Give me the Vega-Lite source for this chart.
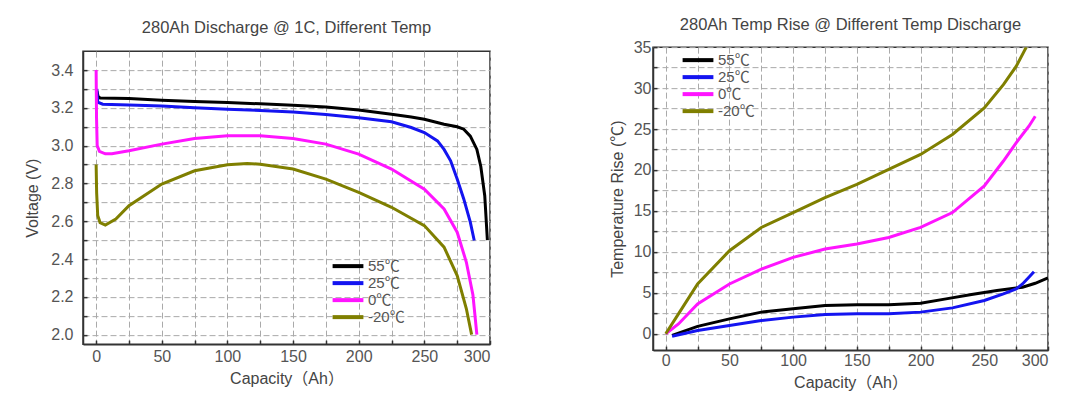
{
  "$schema": "https://vega.github.io/schema/vega-lite/v6.json",
  "padding": {"left": 24, "top": 15, "right": 5, "bottom": 5},
  "background": "white",
  "spacing": 116,
  "center": true,
  "config": {
    "font": "Liberation Sans, Noto Sans CJK SC, sans-serif",
    "view": {"stroke": "#333", "strokeWidth": 1.5},
    "title": {"fontSize": 16.5, "fontWeight": "normal", "color": "#444", "offset": 15, "anchor": "middle"},
    "axis": {
      "grid": true,
      "domainColor": "#333", "domainWidth": 1.5,
      "tickColor": "#333", "tickWidth": 1.5, "tickSize": -4,
      "labelFontSize": 16, "labelColor": "#555", "labelFont": "Liberation Sans",
      "titleFontSize": 16, "titleFontWeight": "normal", "titleColor": "#444",
      "gridColor": "#aaa", "gridDash": [6, 3], "gridWidth": 1
    },
    "legend": {
      "symbolType": "M-2.2,0L2.2,0", "symbolStrokeWidth": 4, "symbolSize": 196,
      "labelFontSize": 15, "labelColor": "#555", "rowPadding": 0, "labelOffset": 11,
      "padding": 0, "orient": "none"
    }
  },
  "datasets": {
    "volt": [
      {"c": 0.6, "v": 3.29, "t": "55℃"}, {"c": 1.5, "v": 3.26, "t": "55℃"}, {"c": 3, "v": 3.252, "t": "55℃"}, {"c": 25, "v": 3.249, "t": "55℃"}, {"c": 50, "v": 3.24, "t": "55℃"}, {"c": 75, "v": 3.234, "t": "55℃"}, {"c": 100, "v": 3.228, "t": "55℃"}, {"c": 125, "v": 3.221, "t": "55℃"}, {"c": 150, "v": 3.214, "t": "55℃"}, {"c": 175, "v": 3.204, "t": "55℃"}, {"c": 200, "v": 3.189, "t": "55℃"}, {"c": 225, "v": 3.166, "t": "55℃"}, {"c": 240, "v": 3.152, "t": "55℃"}, {"c": 250, "v": 3.14, "t": "55℃"}, {"c": 265, "v": 3.113, "t": "55℃"}, {"c": 275, "v": 3.1, "t": "55℃"}, {"c": 280, "v": 3.087, "t": "55℃"}, {"c": 285, "v": 3.05, "t": "55℃"}, {"c": 290, "v": 2.98, "t": "55℃"}, {"c": 293, "v": 2.89, "t": "55℃"}, {"c": 296, "v": 2.735, "t": "55℃"}, {"c": 298, "v": 2.5, "t": "55℃"},
      {"c": 0.5, "v": 3.3, "t": "25℃"}, {"c": 1.2, "v": 3.23, "t": "25℃"}, {"c": 5, "v": 3.219, "t": "25℃"}, {"c": 25, "v": 3.215, "t": "25℃"}, {"c": 50, "v": 3.21, "t": "25℃"}, {"c": 75, "v": 3.201, "t": "25℃"}, {"c": 100, "v": 3.193, "t": "25℃"}, {"c": 125, "v": 3.186, "t": "25℃"}, {"c": 150, "v": 3.178, "t": "25℃"}, {"c": 175, "v": 3.165, "t": "25℃"}, {"c": 200, "v": 3.148, "t": "25℃"}, {"c": 225, "v": 3.126, "t": "25℃"}, {"c": 240, "v": 3.096, "t": "25℃"}, {"c": 250, "v": 3.069, "t": "25℃"}, {"c": 260, "v": 3.025, "t": "25℃"}, {"c": 265, "v": 2.98, "t": "25℃"}, {"c": 270, "v": 2.92, "t": "25℃"}, {"c": 275, "v": 2.823, "t": "25℃"}, {"c": 280, "v": 2.718, "t": "25℃"}, {"c": 285, "v": 2.595, "t": "25℃"}, {"c": 288, "v": 2.498, "t": "25℃"},
      {"c": 0, "v": 3.4, "t": "0℃"}, {"c": 0.3, "v": 3.15, "t": "0℃"}, {"c": 0.8, "v": 3.0, "t": "0℃"}, {"c": 2.5, "v": 2.97, "t": "0℃"}, {"c": 7, "v": 2.957, "t": "0℃"}, {"c": 12, "v": 2.957, "t": "0℃"}, {"c": 25, "v": 2.973, "t": "0℃"}, {"c": 50, "v": 3.008, "t": "0℃"}, {"c": 75, "v": 3.038, "t": "0℃"}, {"c": 100, "v": 3.052, "t": "0℃"}, {"c": 125, "v": 3.052, "t": "0℃"}, {"c": 150, "v": 3.038, "t": "0℃"}, {"c": 175, "v": 3.008, "t": "0℃"}, {"c": 200, "v": 2.955, "t": "0℃"}, {"c": 225, "v": 2.876, "t": "0℃"}, {"c": 250, "v": 2.77, "t": "0℃"}, {"c": 265, "v": 2.665, "t": "0℃"}, {"c": 275, "v": 2.542, "t": "0℃"}, {"c": 282, "v": 2.383, "t": "0℃"}, {"c": 287, "v": 2.21, "t": "0℃"}, {"c": 290, "v": 2.0, "t": "0℃"},
      {"c": 0, "v": 2.9, "t": "-20℃"}, {"c": 0.4, "v": 2.75, "t": "-20℃"}, {"c": 1.2, "v": 2.63, "t": "-20℃"}, {"c": 3, "v": 2.593, "t": "-20℃"}, {"c": 7, "v": 2.58, "t": "-20℃"}, {"c": 15, "v": 2.612, "t": "-20℃"}, {"c": 25, "v": 2.682, "t": "-20℃"}, {"c": 50, "v": 2.797, "t": "-20℃"}, {"c": 75, "v": 2.867, "t": "-20℃"}, {"c": 100, "v": 2.899, "t": "-20℃"}, {"c": 115, "v": 2.906, "t": "-20℃"}, {"c": 125, "v": 2.902, "t": "-20℃"}, {"c": 150, "v": 2.876, "t": "-20℃"}, {"c": 175, "v": 2.823, "t": "-20℃"}, {"c": 200, "v": 2.753, "t": "-20℃"}, {"c": 225, "v": 2.674, "t": "-20℃"}, {"c": 250, "v": 2.577, "t": "-20℃"}, {"c": 265, "v": 2.463, "t": "-20℃"}, {"c": 275, "v": 2.313, "t": "-20℃"}, {"c": 282, "v": 2.137, "t": "-20℃"}, {"c": 286, "v": 2.0, "t": "-20℃"}
    ],
    "rise": [
      {"c": 5, "r": -0.2, "t": "55℃"}, {"c": 25, "r": 0.9, "t": "55℃"}, {"c": 50, "r": 1.82, "t": "55℃"}, {"c": 75, "r": 2.64, "t": "55℃"}, {"c": 100, "r": 3.04, "t": "55℃"}, {"c": 125, "r": 3.45, "t": "55℃"}, {"c": 150, "r": 3.53, "t": "55℃"}, {"c": 175, "r": 3.53, "t": "55℃"}, {"c": 200, "r": 3.73, "t": "55℃"}, {"c": 220, "r": 4.26, "t": "55℃"}, {"c": 240, "r": 4.79, "t": "55℃"}, {"c": 260, "r": 5.27, "t": "55℃"}, {"c": 280, "r": 5.68, "t": "55℃"}, {"c": 290, "r": 6.16, "t": "55℃"}, {"c": 300, "r": 6.81, "t": "55℃"},
      {"c": 5, "r": -0.3, "t": "25℃"}, {"c": 25, "r": 0.4, "t": "25℃"}, {"c": 50, "r": 1.01, "t": "25℃"}, {"c": 75, "r": 1.62, "t": "25℃"}, {"c": 100, "r": 2.03, "t": "25℃"}, {"c": 125, "r": 2.35, "t": "25℃"}, {"c": 150, "r": 2.43, "t": "25℃"}, {"c": 175, "r": 2.43, "t": "25℃"}, {"c": 200, "r": 2.64, "t": "25℃"}, {"c": 225, "r": 3.16, "t": "25℃"}, {"c": 250, "r": 4.06, "t": "25℃"}, {"c": 265, "r": 4.87, "t": "25℃"}, {"c": 275, "r": 5.47, "t": "25℃"}, {"c": 280, "r": 6.08, "t": "25℃"}, {"c": 285, "r": 6.9, "t": "25℃"}, {"c": 289, "r": 7.58, "t": "25℃"},
      {"c": 0, "r": 0, "t": "0℃"}, {"c": 10, "r": 1.2, "t": "0℃"}, {"c": 25, "r": 3.65, "t": "0℃"}, {"c": 50, "r": 6.08, "t": "0℃"}, {"c": 75, "r": 7.9, "t": "0℃"}, {"c": 100, "r": 9.33, "t": "0℃"}, {"c": 125, "r": 10.34, "t": "0℃"}, {"c": 150, "r": 10.95, "t": "0℃"}, {"c": 175, "r": 11.76, "t": "0℃"}, {"c": 200, "r": 12.98, "t": "0℃"}, {"c": 225, "r": 14.8, "t": "0℃"}, {"c": 250, "r": 18.05, "t": "0℃"}, {"c": 265, "r": 21.09, "t": "0℃"}, {"c": 275, "r": 23.32, "t": "0℃"}, {"c": 285, "r": 25.34, "t": "0℃"}, {"c": 290, "r": 26.56, "t": "0℃"},
      {"c": 0, "r": 0, "t": "-20℃"}, {"c": 10, "r": 2.43, "t": "-20℃"}, {"c": 25, "r": 6.08, "t": "-20℃"}, {"c": 50, "r": 10.14, "t": "-20℃"}, {"c": 75, "r": 12.98, "t": "-20℃"}, {"c": 100, "r": 14.8, "t": "-20℃"}, {"c": 125, "r": 16.63, "t": "-20℃"}, {"c": 150, "r": 18.25, "t": "-20℃"}, {"c": 175, "r": 20.07, "t": "-20℃"}, {"c": 200, "r": 21.9, "t": "-20℃"}, {"c": 225, "r": 24.33, "t": "-20℃"}, {"c": 250, "r": 27.57, "t": "-20℃"}, {"c": 265, "r": 30.41, "t": "-20℃"}, {"c": 275, "r": 32.64, "t": "-20℃"}, {"c": 283, "r": 35, "t": "-20℃"}
    ]
  },
  "resolve": {"scale": {"color": "independent"}, "legend": {"color": "independent"}},
  "hconcat": [
    {
      "width": 407, "height": 293,
      "title": {"text": "280Ah Discharge @ 1C, Different Temp"},
      "data": {"name": "volt"},
      "mark": {"type": "line", "strokeWidth": 3, "clip": true},
      "encoding": {
        "x": {"field": "c", "type": "quantitative", "scale": {"domain": [-10, 300], "nice": false, "zero": false},
              "axis": {"title": "Capacity（Ah）", "grid": true, "values": [0, 25, 50, 75, 100, 125, 150, 175, 200, 225, 250, 275, 300],
                       "labelExpr": "datum.value % 50 == 0 ? datum.label : ''",
                       "labelPadding": 8, "titlePadding": 6}},
        "y": {"field": "v", "type": "quantitative", "scale": {"domain": [1.95, 3.5], "nice": false, "zero": false},
              "axis": {"title": "Voltage (V)", "grid": true, "values": [2.0, 2.1, 2.2, 2.3, 2.4, 2.5, 2.6, 2.7, 2.8, 2.9, 3.0, 3.1, 3.2, 3.3, 3.4],
                       "format": ".1f", "labelExpr": "round(datum.value*10) % 2 == 0 ? datum.label : ''",
                       "labelPadding": 14, "titlePadding": 10}},
        "color": {"field": "t", "type": "nominal", "title": null,
                  "scale": {"domain": ["55℃", "25℃", "0℃", "-20℃"], "range": ["#000000", "#1414f0", "#ff14ff", "#7f7f00"]},
                  "legend": {"legendX": 256, "legendY": 206}}
      }
    },
    {
      "width": 395, "height": 303,
      "title": {"text": "280Ah Temp Rise @ Different Temp Discharge", "offset": 6},
      "data": {"name": "rise"},
      "mark": {"type": "line", "strokeWidth": 3, "clip": true},
      "encoding": {
        "x": {"field": "c", "type": "quantitative", "scale": {"domain": [-10, 300], "nice": false, "zero": false},
              "axis": {"title": "Capacity（Ah）", "grid": true, "values": [0, 25, 50, 75, 100, 125, 150, 175, 200, 225, 250, 275, 300],
                       "labelExpr": "datum.value % 50 == 0 ? datum.label : ''",
                       "labelPadding": 6, "titlePadding": 6}},
        "y": {"field": "r", "type": "quantitative", "scale": {"domain": [-2, 35], "nice": false, "zero": false},
              "axis": {"title": "Temperature Rise (℃)", "grid": true, "values": [0, 2.5, 5, 7.5, 10, 12.5, 15, 17.5, 20, 22.5, 25, 27.5, 30, 32.5, 35],
                       "labelExpr": "datum.value % 5 == 0 ? datum.label : ''",
                       "labelPadding": 6, "titlePadding": 8}},
        "color": {"field": "t", "type": "nominal", "title": null,
                  "scale": {"domain": ["55℃", "25℃", "0℃", "-20℃"], "range": ["#000000", "#1414f0", "#ff14ff", "#7f7f00"]},
                  "legend": {"legendX": 36, "legendY": 4}}
      }
    }
  ]
}
